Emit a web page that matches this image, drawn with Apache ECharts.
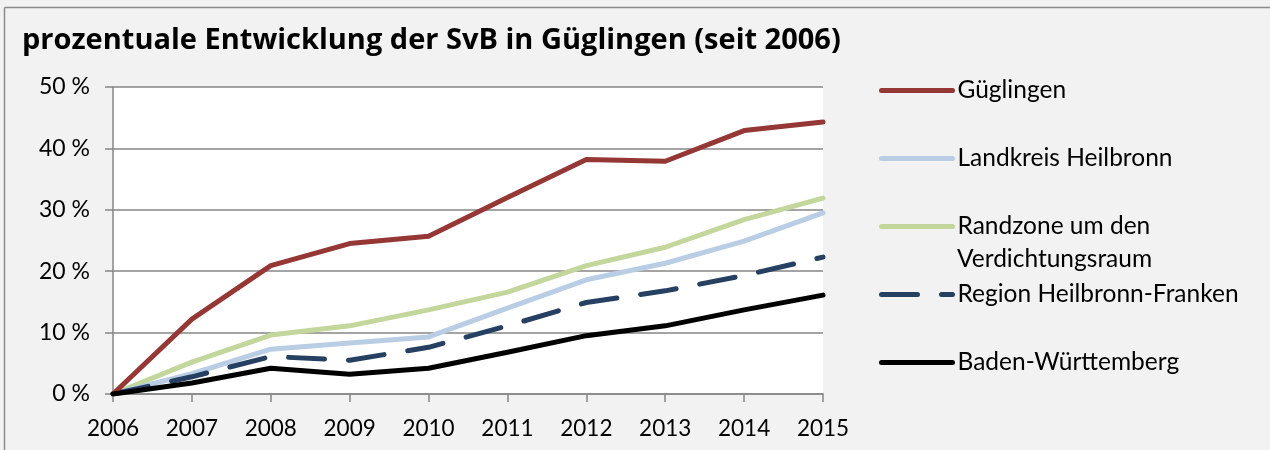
<!DOCTYPE html>
<html><head><meta charset="utf-8">
<script src="https://cdn.jsdelivr.net/npm/echarts@6/dist/echarts.min.js"></script>
<style>html,body{margin:0;padding:0;background:#f2f2f2;overflow:hidden;}#c{width:1270px;height:450px;}</style>
</head><body><div id="c"></div>
<script>
var years = ['2006','2007','2008','2009','2010','2011','2012','2013','2014','2015'];
var gueglingen = [0, 12.2, 20.9, 24.5, 25.7, 32.0, 38.2, 37.9, 42.9, 44.3];
var landkreis = [0, 3.3, 7.3, 8.3, 9.3, 14.0, 18.6, 21.3, 24.9, 29.5];
var randzone = [0, 5.2, 9.6, 11.1, 13.7, 16.6, 20.9, 23.9, 28.4, 31.9];
var region = [0, 2.8, 6.1, 5.5, 7.6, 11.1, 14.9, 16.8, 19.3, 22.3];
var bw = [0, 1.8, 4.2, 3.2, 4.2, 6.8, 9.5, 11.1, 13.7, 16.1];
var yTicks = [0, 10, 20, 30, 40, 50];

var FONT = 'Lato';
var chart = echarts.init(document.getElementById('c'), null, {renderer:'canvas'});
function mk(name, data, color, dash, z){
  return {name:name, type:'line', data:data, symbol:'none', showSymbol:false, z:z,
    lineStyle:{color:color, width:5, type:dash||'solid', cap:'round', join:'round'},
    itemStyle:{color:color}, emphasis:{disabled:true}, animation:false};
}
function lg(name, cy){
  return {data:[name], left:874, top:cy-17, orient:'vertical',
    itemWidth:71, itemHeight:14, itemGap:0, itemTextGap:7,
    itemStyle:{opacity:0},
    lineStyle:{width:5, cap:'round'},
    textStyle:{fontFamily:FONT, fontSize:24.5, color:'#000'}};
}
chart.setOption({
  backgroundColor:'#f2f2f2',
  animation:false,
  title:{text:'prozentuale Entwicklung der SvB in Güglingen (seit 2006)', left:17, top:21,
    textStyle:{fontFamily:'Open Sans', fontWeight:'bold', fontSize:29, color:'#000'}},
  graphic:[
    {type:'line', shape:{x1:4.5, y1:7.5, x2:4.5, y2:460}, style:{stroke:'#8c8c8c', lineWidth:1.5}, z:100},
    {type:'line', shape:{x1:4.5, y1:7.5, x2:1280, y2:7.5}, style:{stroke:'#8c8c8c', lineWidth:1.5}, z:100},
    {type:'text', x:957, y:259, style:{text:'Verdichtungsraum', font:'24.5px '+FONT, fill:'#000', verticalAlign:'middle'}}
  ],
  legend:[lg('Güglingen',90), lg('Landkreis Heilbronn',158), lg('Randzone um den',226), lg('Region Heilbronn-Franken',294), lg('Baden-Württemberg',362)],
  grid:{left:113, right:447, top:87, bottom:56, show:true, backgroundColor:'#fff', borderWidth:0},
  xAxis:{type:'category', data:years, boundaryGap:false,
    axisLine:{lineStyle:{color:'#868686', width:1.5}},
    axisTick:{show:true, length:8, lineStyle:{color:'#868686', width:1.5}},
    axisLabel:{fontFamily:FONT, fontSize:22.5, color:'#000', margin:23}},
  yAxis:{type:'value', min:0, max:50, interval:10,
    axisLine:{show:true, lineStyle:{color:'#868686', width:1.5}},
    axisTick:{show:true, length:8, lineStyle:{color:'#868686', width:1.5}},
    splitLine:{lineStyle:{color:'#868686', width:1.5}},
    axisLabel:{fontFamily:FONT, fontSize:23, color:'#000', margin:23,
      formatter:function(v){return yTicks.indexOf(v)>=0 ? v+' %' : '';}}},
  series:[
    mk('Güglingen', gueglingen, '#953735', null, 5),
    mk('Landkreis Heilbronn', landkreis, '#b9cde5', null, 3),
    mk('Randzone um den', randzone, '#c3d69b', null, 2),
    mk('Region Heilbronn-Franken', region, '#254061', [36,24], 4),
    mk('Baden-Württemberg', bw, '#000000', null, 6)
  ]
});
</script></body></html>
